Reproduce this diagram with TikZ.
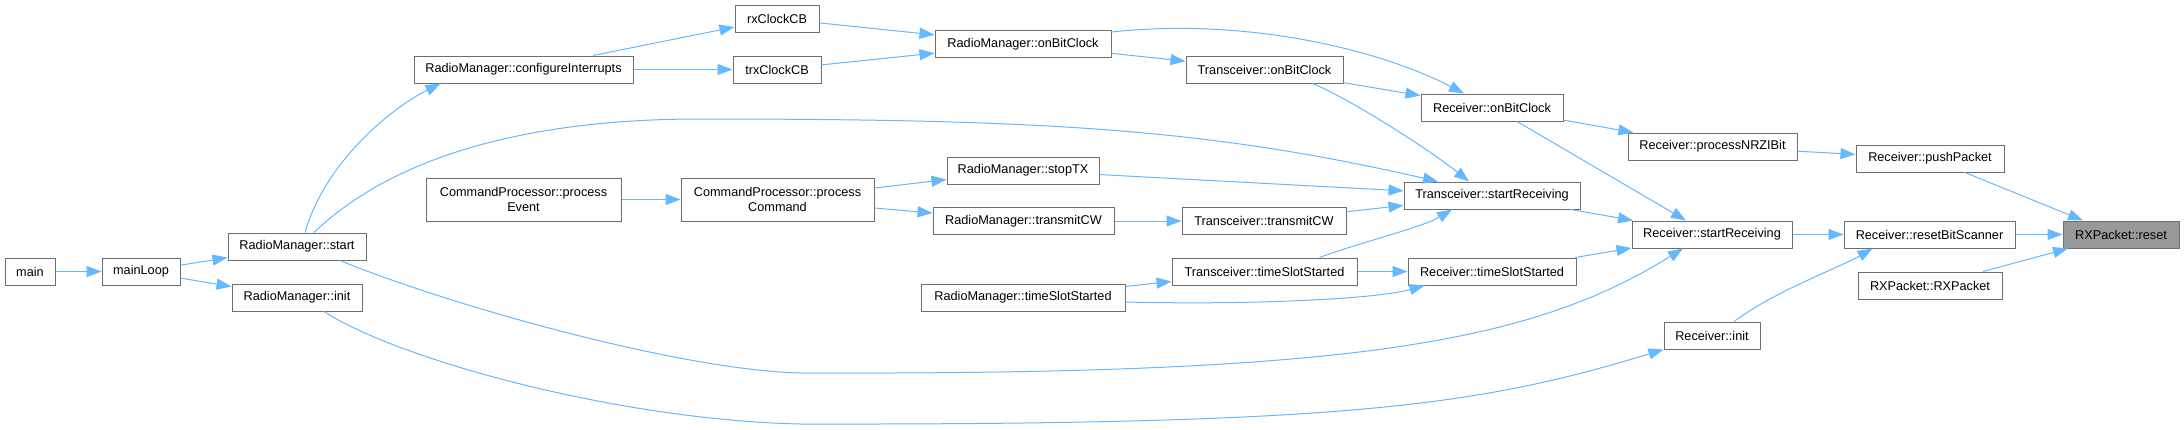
\documentclass[tikz,border=0pt]{standalone}
\usepackage{fontspec}
\setmainfont{Liberation Sans}
\usepackage{tikz}
\usetikzlibrary{arrows.meta}
\usepackage{xcolor}
\definecolor{edge}{HTML}{63B8FF}
\definecolor{frame}{HTML}{6E6E6E}
\definecolor{root}{HTML}{999999}
\tikzset{
  >={Triangle[length=15pt,width=11pt]},
  every node/.style={font=\fontsize{12.7}{15.7}\selectfont,text=black},
  fnbox/.style={draw=frame,line width=1pt,fill=white,minimum height=27pt,inner sep=0pt,align=center},
  rootbox/.style={fnbox,fill=root},
  tallbox/.style={fnbox,minimum height=43pt},
  call/.style={->,line width=1pt,draw=edge},
}
\begin{document}
\begin{tikzpicture}[x=1pt,y=-1pt]
\useasboundingbox (0,0) rectangle (2184,429);

\node[fnbox,minimum width=50] (main) at (30,271.5) {main};
\node[fnbox,minimum width=78] (mainLoop) at (141,271.5) {mainLoop};
\node[fnbox,minimum width=138] (rmStart) at (297,246.5) {RadioManager::start};
\node[fnbox,minimum width=130] (rmInit) at (297,297.5) {RadioManager::init};
\node[fnbox,minimum width=219] (rmConfig) at (523.5,69.5) {RadioManager::configureInterrupts};
\node[tallbox,minimum width=195] (cpEvent) at (523.5,199.5) {CommandProcessor::process\\Event};
\node[tallbox,minimum width=193] (cpCommand) at (777.5,199.5) {CommandProcessor::process\\Command};
\node[fnbox,minimum width=84] (rxClock) at (777,18.5) {rxClockCB};
\node[fnbox,minimum width=88] (trxClock) at (777,69.5) {trxClockCB};
\node[fnbox,minimum width=176] (rmOnBit) at (1023,44) {RadioManager::onBitClock};
\node[fnbox,minimum width=152] (rmStopTX) at (1023,170.5) {RadioManager::stopTX};
\node[fnbox,minimum width=181] (rmTransmit) at (1023.5,221) {RadioManager::transmitCW};
\node[fnbox,minimum width=204] (rmTimeSlot) at (1023,297.5) {RadioManager::timeSlotStarted};
\node[fnbox,minimum width=157] (trOnBit) at (1264.5,69.5) {Transceiver::onBitClock};
\node[fnbox,minimum width=164] (trTransmit) at (1264,221) {Transceiver::transmitCW};
\node[fnbox,minimum width=185] (trTimeSlot) at (1264.5,271.5) {Transceiver::timeSlotStarted};
\node[fnbox,minimum width=142] (recOnBit) at (1492,107.5) {Receiver::onBitClock};
\node[fnbox,minimum width=176] (trStartRx) at (1492,195.5) {Transceiver::startReceiving};
\node[fnbox,minimum width=168] (recTimeSlot) at (1492,271.5) {Receiver::timeSlotStarted};
\node[fnbox,minimum width=169] (recNRZI) at (1712.5,146.5) {Receiver::processNRZIBit};
\node[fnbox,minimum width=160] (recStartRx) at (1712,234.5) {Receiver::startReceiving};
\node[fnbox,minimum width=96] (recInit) at (1712,335.5) {Receiver::init};
\node[fnbox,minimum width=148] (recPush) at (1930,158.5) {Receiver::pushPacket};
\node[fnbox,minimum width=171] (recReset) at (1929.5,234.5) {Receiver::resetBitScanner};
\node[fnbox,minimum width=144] (rxpCtor) at (1930,285.5) {RXPacket::RXPacket};
\node[rootbox,minimum width=116] (rxpReset) at (2121,234.5) {RXPacket::reset};

\draw[call] (main) -- (mainLoop);
\draw[call] (mainLoop) -- (rmStart);
\draw[call] (mainLoop) -- (rmInit);
\draw[call] ([xshift=8pt]rmStart.north) .. controls +(20,-70) and +(-50,25) .. ([xshift=-83pt]rmConfig.south);
\draw[call] ([xshift=17pt]rmStart.north) .. controls +(76,-73) and +(-180,0) .. (700,119)
  .. controls +(350,0) and +(-227,-52) .. ([xshift=-54pt]trStartRx.north);
\draw[call] ([xshift=43pt]rmStart.south) .. controls +(110,45) and +(-120,-3) .. (800,373)
  .. controls +(550,2) and +(-153,95) .. ([xshift=-29pt]recStartRx.south);
\draw[call] ([xshift=27pt]rmInit.south) .. controls +(76,49) and +(-180,-4) .. (800,424)
  .. controls +(550,1) and +(-184,56) .. (recInit.south west);
\draw[call] (rmConfig) -- (rxClock);
\draw[call] (rmConfig) -- (trxClock);
\draw[call] (rxClock) -- (rmOnBit);
\draw[call] (trxClock) -- (rmOnBit);
\draw[call] (rmOnBit) -- (trOnBit);
\draw[call] ([yshift=-2pt]rmOnBit.north east) .. controls +(139,-15) and +(-80,-42) .. ([xshift=-28pt]recOnBit.north);
\draw[call] (trOnBit) -- (recOnBit);
\draw[call] ([xshift=48pt]trOnBit.south) .. controls +(37,15) and +(-40,-32) .. ([xshift=-23pt]trStartRx.north);
\draw[call] (recOnBit) -- (recNRZI);
\draw[call] ([xshift=25pt]recOnBit.south) -- ([xshift=-26pt]recStartRx.north);
\draw[call] (recNRZI) -- (recPush);
\draw[call] ([xshift=35pt]recPush.south) -- ([xshift=-38pt]rxpReset.north);
\draw[call] (cpEvent) -- (cpCommand);
\draw[call] (cpCommand) -- (rmStopTX);
\draw[call] (cpCommand) -- (rmTransmit);
\draw[call] (rmStopTX) -- (trStartRx);
\draw[call] (rmTransmit) -- (trTransmit);
\draw[call] (trTransmit) -- (trStartRx);
\draw[call] ([xshift=55pt]trTimeSlot.north) .. controls +(40,-15) and +(-30,18) .. ([xshift=-40pt]trStartRx.south);
\draw[call] (trTimeSlot) -- (recTimeSlot);
\draw[call] (rmTimeSlot) -- (trTimeSlot);
\draw[call] ([yshift=-4.5pt]rmTimeSlot.east) .. controls +(120,3) and +(-50,14) .. ([xshift=17pt]recTimeSlot.south west);
\draw[call] (trStartRx) -- (recStartRx);
\draw[call] (recTimeSlot) -- (recStartRx);
\draw[call] (recStartRx) -- (recReset);
\draw[call] ([xshift=22pt]recInit.north) .. controls +(40,-30) and +(-35,20) .. ([xshift=-57pt]recReset.south);
\draw[call] (recReset) -- (rxpReset);
\draw[call] ([xshift=53pt]rxpCtor.north) -- ([xshift=-53pt]rxpReset.south);

\end{tikzpicture}
\end{document}
